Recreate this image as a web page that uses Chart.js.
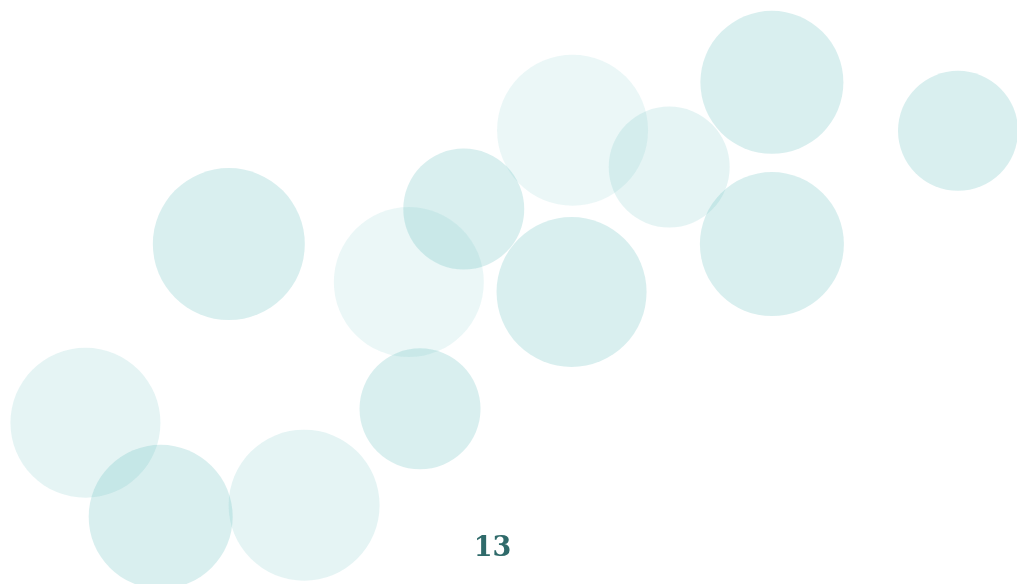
<!DOCTYPE html>
<html>
<head>
<meta charset="utf-8">
<script src="https://cdn.jsdelivr.net/npm/chart.js@4"></script>
<style>
  html, body { margin: 0; padding: 0; background: #ffffff; }
  #wrap { position: relative; width: 1017px; height: 584px; }
</style>
</head>
<body>
<div id="wrap"><canvas id="bubbles"></canvas></div>
<script>
// bubble positions (x, y on a 0-100 grid) and radii in px
const xs    = [22.5, 8.4, 15.8, 29.9, 40.2, 45.6, 41.3, 56.3, 56.2, 65.8, 75.9, 75.9, 94.2];
const ys    = [58.2, 27.6, 11.5, 13.5, 51.7, 64.2, 30.0, 77.7, 50.0, 71.4, 85.9, 58.2, 77.6];
const radii = [76, 75, 72, 75.5, 75, 60.5, 60.5, 75.5, 75, 60.5, 71.5, 72, 60];
// 0 = faint, 1 = medium, 2 = strong tint
const shades = [2, 1, 2, 1, 0, 2, 2, 0, 2, 1, 2, 2, 2];
const pageLabel = '13';

const tint = ['rgba(100, 190, 190, 0.13)', 'rgba(100, 190, 190, 0.17)', 'rgba(100, 190, 190, 0.245)'];

const pageNumber = {
  id: 'pageNumber',
  afterDraw(chart) {
    const { ctx, width } = chart;
    ctx.save();
    ctx.font = 'bold 27px "DejaVu Serif"';
    ctx.fillStyle = '#2f6a6a';
    ctx.textAlign = 'center';
    ctx.textBaseline = 'alphabetic';
    ctx.fillText(pageLabel, width / 2 - 16, 556);
    ctx.restore();
  }
};

new Chart(document.getElementById('bubbles').getContext('2d'), {
  type: 'bubble',
  data: {
    datasets: [{
      data: xs.map((x, i) => ({ x, y: ys[i], r: radii[i] })),
      backgroundColor: shades.map(s => tint[s]),
      hoverBackgroundColor: shades.map(s => tint[s]),
      borderWidth: 0,
      hoverBorderWidth: 0
    }]
  },
  options: {
    responsive: true,
    maintainAspectRatio: false,
    animation: false,
    clip: false,
    layout: { padding: 0, autoPadding: false },
    scales: {
      x: { type: 'linear', min: 0, max: 100, display: false },
      y: { type: 'linear', min: 0, max: 100, display: false }
    },
    plugins: {
      legend: { display: false },
      tooltip: { enabled: false }
    }
  },
  plugins: [pageNumber]
});
</script>
</body>
</html>
